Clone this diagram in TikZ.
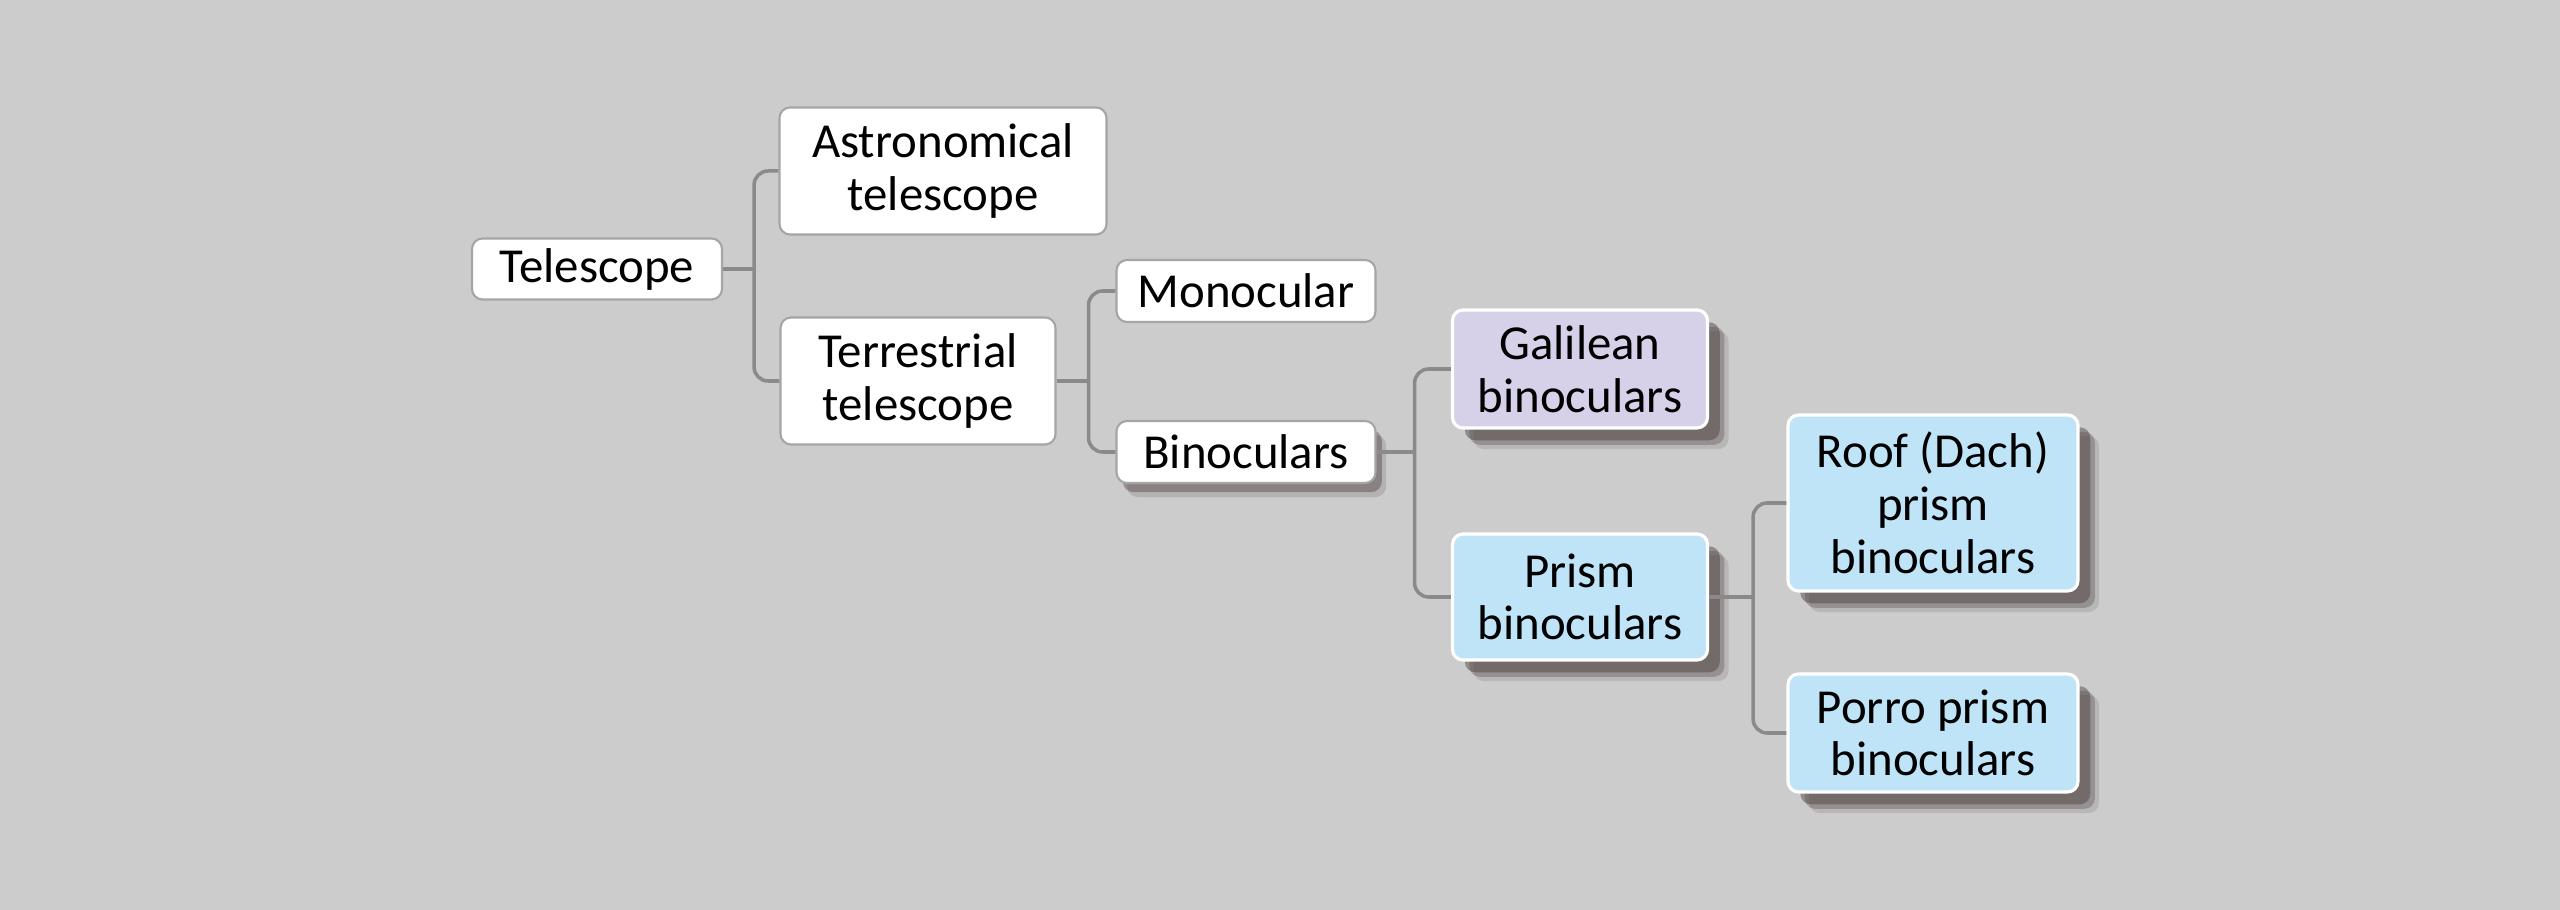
\documentclass[tikz,border=0pt]{standalone}
\usepackage{fontspec}
\setmainfont{Carlito}
\definecolor{bggray}{RGB}{204, 204, 204}
\definecolor{linegray}{RGB}{138, 138, 138}
\definecolor{boxgray}{RGB}{165, 165, 165}
\definecolor{galilav}{RGB}{214, 208, 232}
\definecolor{prismblue}{RGB}{191, 228, 248}
\definecolor{shadowbrown}{RGB}{72, 62, 60}
\usetikzlibrary{shadows}

\tikzset{
  treebox/.style={draw=boxgray, fill=white, rounded corners=3pt, align=center, inner sep=2pt, line width=0.6pt, font=\fontsize{13.9}{15}\selectfont},
  colbox/.style={treebox, draw=white, line width=0.9pt},
  midshadow/.style={drop shadow={shadow xshift=3pt, shadow yshift=-4pt, fill=shadowbrown, opacity=0.18}, drop shadow={shadow xshift=1.8pt, shadow yshift=-2.6pt, fill=shadowbrown, opacity=0.4}},
  deepshadow/.style={drop shadow={shadow xshift=6pt, shadow yshift=-6pt, fill=shadowbrown, opacity=0.15}, drop shadow={shadow xshift=4.8pt, shadow yshift=-4.8pt, fill=shadowbrown, opacity=0.3}, drop shadow={shadow xshift=3.5pt, shadow yshift=-3.5pt, fill=shadowbrown, opacity=0.45}},
  link/.style={draw=linegray, line width=1pt, rounded corners=4pt}
}

\begin{document}
\begin{tikzpicture}
  % Background
  \fill[bggray] (0, 0) rectangle (25.6, -9.1);

  % First level
  \node[treebox, minimum width=2.50cm, minimum height=0.61cm] (tele) at (5.97, -2.69) {Telescope};
  \node[treebox, minimum width=3.27cm, minimum height=1.27cm] (astro) at (9.43, -1.71) {Astronomical\\telescope};
  \node[treebox, minimum width=2.75cm, minimum height=1.27cm] (terr) at (9.18, -3.81) {Terrestrial\\telescope};

  % Terrestrial branch
  \node[treebox, minimum width=2.59cm, minimum height=0.62cm] (mono) at (12.46, -2.91) {Monocular};
  \node[treebox, midshadow, minimum width=2.59cm, minimum height=0.62cm] (bino) at (12.46, -4.52) {Binoculars};

  % Binocular types
  \node[colbox, deepshadow, fill=galilav, minimum width=2.55cm, minimum height=1.18cm] (gali) at (15.80, -3.69) {Galilean\\binoculars};
  \node[colbox, deepshadow, fill=prismblue, minimum width=2.55cm, minimum height=1.26cm] (prism) at (15.80, -5.97) {Prism\\binoculars};

  % Prism types
  \node[colbox, deepshadow, fill=prismblue, minimum width=2.90cm, minimum height=1.76cm] (roof) at (19.33, -5.03) {Roof (Dach)\\prism\\binoculars};
  \node[colbox, deepshadow, fill=prismblue, minimum width=2.90cm, minimum height=1.18cm] (porro) at (19.33, -7.33) {Porro prism\\binoculars};

  % Connectors
  \draw[link] (tele.east) -- ++(0.31, 0) coordinate (telebus);
  \draw[link] (astro.west) -| (telebus) |- (terr.west);
  \draw[link] (terr.east) -- ++(0.32, 0) coordinate (terrbus);
  \draw[link] (mono.west) -| (terrbus) |- (bino.west);
  \draw[link] (bino.east) -- ++(0.38, 0) coordinate (binobus);
  \draw[link] (gali.west) -| (binobus) |- (prism.west);
  \draw[link] (prism.east) -- ++(0.44, 0) coordinate (prismbus);
  \draw[link] (roof.west) -| (prismbus) |- (porro.west);
\end{tikzpicture}
\end{document}
